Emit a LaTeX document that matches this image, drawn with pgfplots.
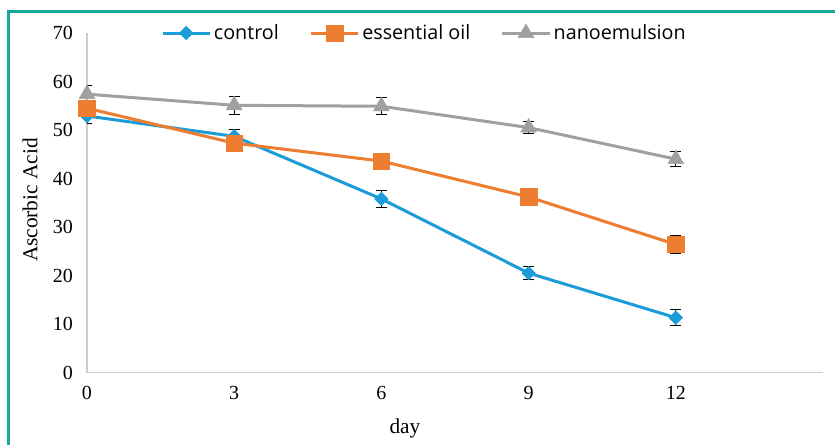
\documentclass[border=0pt]{standalone}
\usepackage{pgfplots}
\pgfplotsset{compat=1.18}
\usepackage{fontspec}
\setmainfont{Liberation Serif}
\newfontfamily\legfont{Open Sans}
\definecolor{cblue}{RGB}{27,155,215}
\definecolor{corange}{RGB}{237,125,49}
\definecolor{cgray}{RGB}{160,160,160}
\definecolor{cframe}{RGB}{22,170,150}
\definecolor{caxis}{RGB}{205,205,205}
\begin{document}
\begin{tikzpicture}
\path[use as bounding box] (0pt,0pt) rectangle (626.25pt,333pt);
\draw[cframe, line width=2.25pt] (6pt,-2pt) -- (6pt,324pt) -- (628pt,324pt);
\begin{axis}[
  at={(65.25pt,53.625pt)}, anchor=south west,
  scale only axis, width=552pt, height=254.6pt,
  xmin=0, xmax=15, ymin=0, ymax=70,
  xtick={0,3,6,9,12}, ytick={0,10,...,70},
  axis lines*=left,
  axis line style={caxis, line width=0.9pt, -},
  major tick length=0pt,
  tick label style={font=\fontsize{15}{18}\selectfont},
  /pgf/number format/assume math mode=true,
  xticklabel style={yshift=-7pt},
  yticklabel style={xshift=-7pt},
  xlabel={day}, ylabel={Ascorbic Acid},
  label style={font=\fontsize{16}{19}\selectfont},
  xlabel style={at={(axis description cs:0.432,-0.166)}, anchor=center},
  ylabel style={at={(axis description cs:-0.0775,0.508)}, anchor=center},
  every axis plot/.append style={line width=2.25pt},
  legend style={at={(0.459,1)}, anchor=center, draw=none, fill=none,
    legend columns=3, font=\legfont\fontsize{14.8}{17}\selectfont,
    /tikz/every even column/.append style={column sep=21pt}},
  legend image code/.code={\draw[mark repeat=2,mark phase=2] plot coordinates {(0cm,0cm)(0.62cm,0cm)(1.24cm,0cm)};},
  error bars/error bar style={black, line width=0.75pt},
  error bars/error mark options={rotate=90, mark size=4pt, black, line width=0.75pt},
]
\addplot[cblue, mark=square*, mark options={rotate=45, mark size=3.6pt, line width=0.4pt, fill=cblue},
  error bars/.cd, y dir=both, y explicit]
  coordinates {(0,52.9) +- (0,1.6) (3,48.7) +- (0,1.5) (6,35.8) +- (0,1.8) (9,20.5) +- (0,1.4) (12,11.3) +- (0,1.6)};
\addlegendentry{control}
\addplot[corange, mark=square*, mark options={mark size=6.2pt, line width=0.4pt, fill=corange},
  error bars/.cd, y dir=both, y explicit]
  coordinates {(0,54.5) +- (0,1.3) (3,47.3) +- (0,1.3) (6,43.6) +- (0,1.3) (9,36.2) +- (0,1.6) (12,26.4) +- (0,1.8)};
\addlegendentry{essential oil}
\addplot[cgray, mark=triangle*, mark options={mark size=6.8pt, line width=0.4pt, fill=cgray},
  error bars/.cd, y dir=both, y explicit]
  coordinates {(0,57.4) +- (0,1.8) (3,55.1) +- (0,1.9) (6,54.9) +- (0,1.8) (9,50.5) +- (0,1.3) (12,44.0) +- (0,1.6)};
\addlegendentry{nanoemulsion}
\end{axis}
\end{tikzpicture}
\end{document}
